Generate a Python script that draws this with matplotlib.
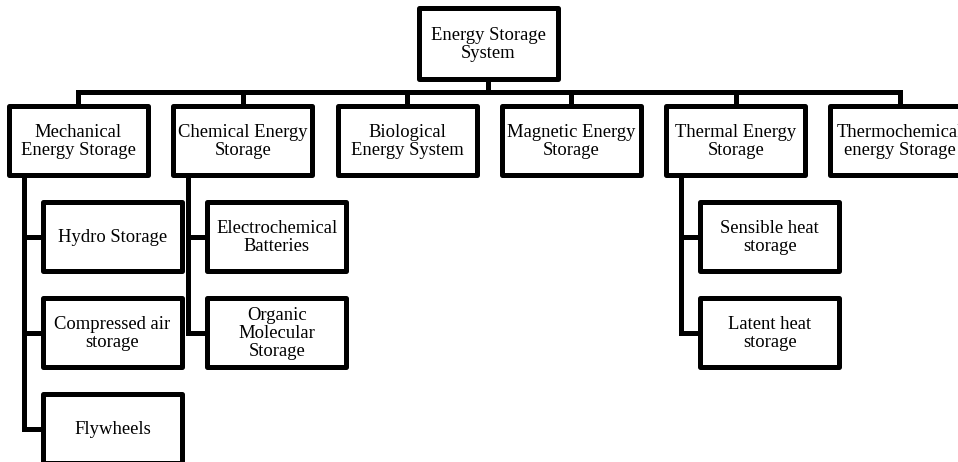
import matplotlib.pyplot as plt
from matplotlib.patches import Rectangle

root_label = "Energy Storage\nSystem"

level1_labels = [
    "Mechanical\nEnergy Storage",
    "Chemical Energy\nStorage",
    "Biological\nEnergy System",
    "Magnetic Energy\nStorage",
    "Thermal Energy\nStorage",
    "Thermochemical\nenergy Storage",
]

# index of the level-1 box -> its sub-categories
children = {
    0: ["Hydro Storage", "Compressed air\nstorage", "Flywheels"],
    1: ["Electrochemical\nBatteries", "Organic\nMolecular\nStorage"],
    4: ["Sensible heat\nstorage", "Latent heat\nstorage"],
}

# layout (pixels, y down)
W, H = 958, 462
lw = 3.6
font = dict(family="Liberation Serif", fontsize=13.4, ha="center", va="center",
            linespacing=1.1)

fig = plt.figure(figsize=(W / 100, H / 100), dpi=100)
ax = fig.add_axes([0, 0, 1, 1])
ax.set_xlim(0, W)
ax.set_ylim(H, 0)
ax.axis("off")


def box(x, y, w, h, text):
    ax.add_patch(Rectangle((x, y), w, h, facecolor="white", edgecolor="black",
                           linewidth=lw, joinstyle="round", zorder=2))
    ax.text(x + w / 2, y + h / 2 + 1, text, zorder=3, **font)


def line(xs, ys):
    ax.plot(xs, ys, color="black", linewidth=lw, solid_capstyle="projecting",
            solid_joinstyle="miter", zorder=1)


# root
root_x, root_y, root_w, root_h = 419, 8, 139, 71
box(root_x, root_y, root_w, root_h, root_label)
root_cx = root_x + root_w / 2

# level 1
l1_x0, l1_step, l1_w = 9, 164.3, 139
l1_y, l1_h = 106, 69
bus_y = 92
centers = [l1_x0 + i * l1_step + l1_w / 2 for i in range(len(level1_labels))]
line([root_cx, root_cx], [root_y + root_h, bus_y])
line([centers[0], centers[-1]], [bus_y, bus_y])
for i, lab in enumerate(level1_labels):
    left = l1_x0 + i * l1_step
    line([centers[i], centers[i]], [bus_y, l1_y])
    box(left, l1_y, l1_w, l1_h, lab)

# level 2
c_y0, c_step, c_h, c_w = 202, 96, 69, 139
for p, labs in children.items():
    left = l1_x0 + p * l1_step
    trunk_x = left + 15
    ys = [c_y0 + k * c_step + c_h / 2 for k in range(len(labs))]
    line([trunk_x, trunk_x], [l1_y + l1_h, ys[-1]])
    for k, lab in enumerate(labs):
        line([trunk_x, left + 34], [ys[k], ys[k]])
        box(left + 34, c_y0 + k * c_step, c_w, c_h, lab)

fig.savefig("out.png", dpi=100)
